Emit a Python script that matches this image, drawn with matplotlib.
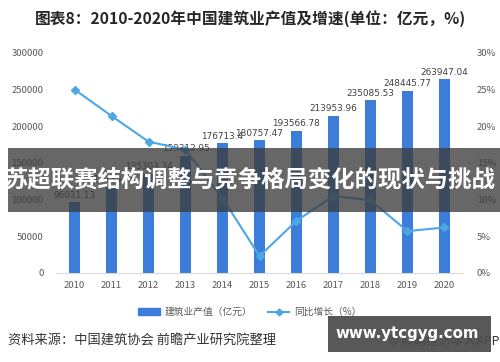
import matplotlib
matplotlib.use("Agg")
import matplotlib.pyplot as plt
from matplotlib.patches import Rectangle
from matplotlib.lines import Line2D
from matplotlib.patches import Patch

plt.rcParams['font.family'] = ['Noto Sans CJK SC', 'DejaVu Sans']

years = ['2010', '2011', '2012', '2013', '2014', '2015', '2016', '2017', '2018', '2019', '2020']
output = [96031.13, 117734.16, 135303.34, 159312.95, 176713.4, 180757.47,
          193566.78, 213953.96, 235085.53, 248445.77, 263947.04]
output_labels = ['96031.13', '117734.16', '135303.34', '159312.95', '176713.4', '180757.47',
                 '193566.78', '213953.96', '235085.53', '248445.77', '263947.04']
growth = [25.0, 21.4, 17.9, 16.8, 10.2, 2.3, 7.1, 10.5, 9.9, 5.7, 6.2]
left_ticks = [0, 50000, 100000, 150000, 200000, 250000, 300000]
right_ticks = [0, 5, 10, 15, 20, 25, 30]

bar_color = '#3B7DD8'
line_color = '#4EA6E6'
tick_color = '#595959'

fig = plt.figure(figsize=(5.0, 3.62), dpi=100)
ax = fig.add_axes([0.112, 0.246, 0.814, 0.608])
x = list(range(len(years)))
ax.bar(x, output, width=0.32, color=bar_color, zorder=2)
ax.set_xlim(-0.5, len(years) - 0.5)
ax.set_ylim(0, 300000)
ax.set_yticks(left_ticks)
ax.set_yticklabels([str(v) for v in left_ticks])
ax.set_xticks(x)
ax.set_xticklabels(years)
for s in ['top', 'right', 'left']:
    ax.spines[s].set_visible(False)
ax.spines['bottom'].set_color('#D9D9D9')
ax.tick_params(axis='both', length=0, labelsize=6.8, colors=tick_color)
ax.tick_params(axis='y', pad=9)
ax.tick_params(axis='x', pad=6)

for xi, v, lab in zip(x, output, output_labels):
    ax.annotate(lab, (xi, v), xytext=(0, 2), textcoords='offset points',
                ha='center', va='bottom', fontsize=6.4, color='#404040',
                family=['DejaVu Sans'], zorder=4)

ax2 = ax.twinx()
ax2.plot(x, growth, color=line_color, lw=1.5, marker='D', ms=4, zorder=3)
ax2.set_ylim(0, 30)
ax2.set_yticks(right_ticks)
ax2.set_yticklabels(['%d%%' % v for v in right_ticks])
for s in ['top', 'right', 'left', 'bottom']:
    ax2.spines[s].set_visible(False)
ax2.tick_params(axis='y', length=0, labelsize=6.8, colors=tick_color, pad=10)

# Title
fig.text(0.5, 0.95, '图表8：2010-2020年中国建筑业产值及增速(单位：亿元，%)',
         ha='center', va='center', fontsize=11.3, fontweight='bold', color='#262626')

# Legend
handles = [Patch(color=bar_color), Line2D([], [], color=line_color, lw=1.5, marker='D', ms=3.5)]
leg = fig.legend(handles, ['建筑业产值（亿元）', '同比增长（%）'], loc='center',
                 bbox_to_anchor=(0.5, 0.138), ncol=2, frameon=False, fontsize=7,
                 handlelength=2.2, handletextpad=0.5, columnspacing=1.6)
for t in leg.get_texts():
    t.set_color(tick_color)

# Source
fig.text(0.016, 0.058, '资料来源：中国建筑协会 前瞻产业研究院整理', ha='left', va='center',
         fontsize=9.5, color='#333333')
fig.text(0.998, 0.058, '© 前瞻经济学人APP', ha='right', va='center', fontsize=9, color='#333333')

# Overlay banner
fig.patches.append(Rectangle((0.016, 0.414), 0.984, 0.178, transform=fig.transFigure,
                             facecolor='#3C3C3C', alpha=0.78, zorder=10))
fig.text(0.5, 0.503, '苏超联赛结构调整与竞争格局变化的现状与挑战', ha='center', va='center',
         fontsize=16.8, fontweight='bold', color='white', zorder=11)

# Bottom-right watermark box
fig.patches.append(Rectangle((0.656, 0.028), 0.326, 0.099, transform=fig.transFigure,
                             facecolor='#4A4A4A', alpha=0.92, zorder=10))
fig.text(0.815, 0.08, 'www.ytcgyg.com', ha='center', va='center', fontsize=10.8,
         fontweight='bold', color='white', zorder=11, family=['DejaVu Sans'])

fig.savefig('out.png', dpi=100)
